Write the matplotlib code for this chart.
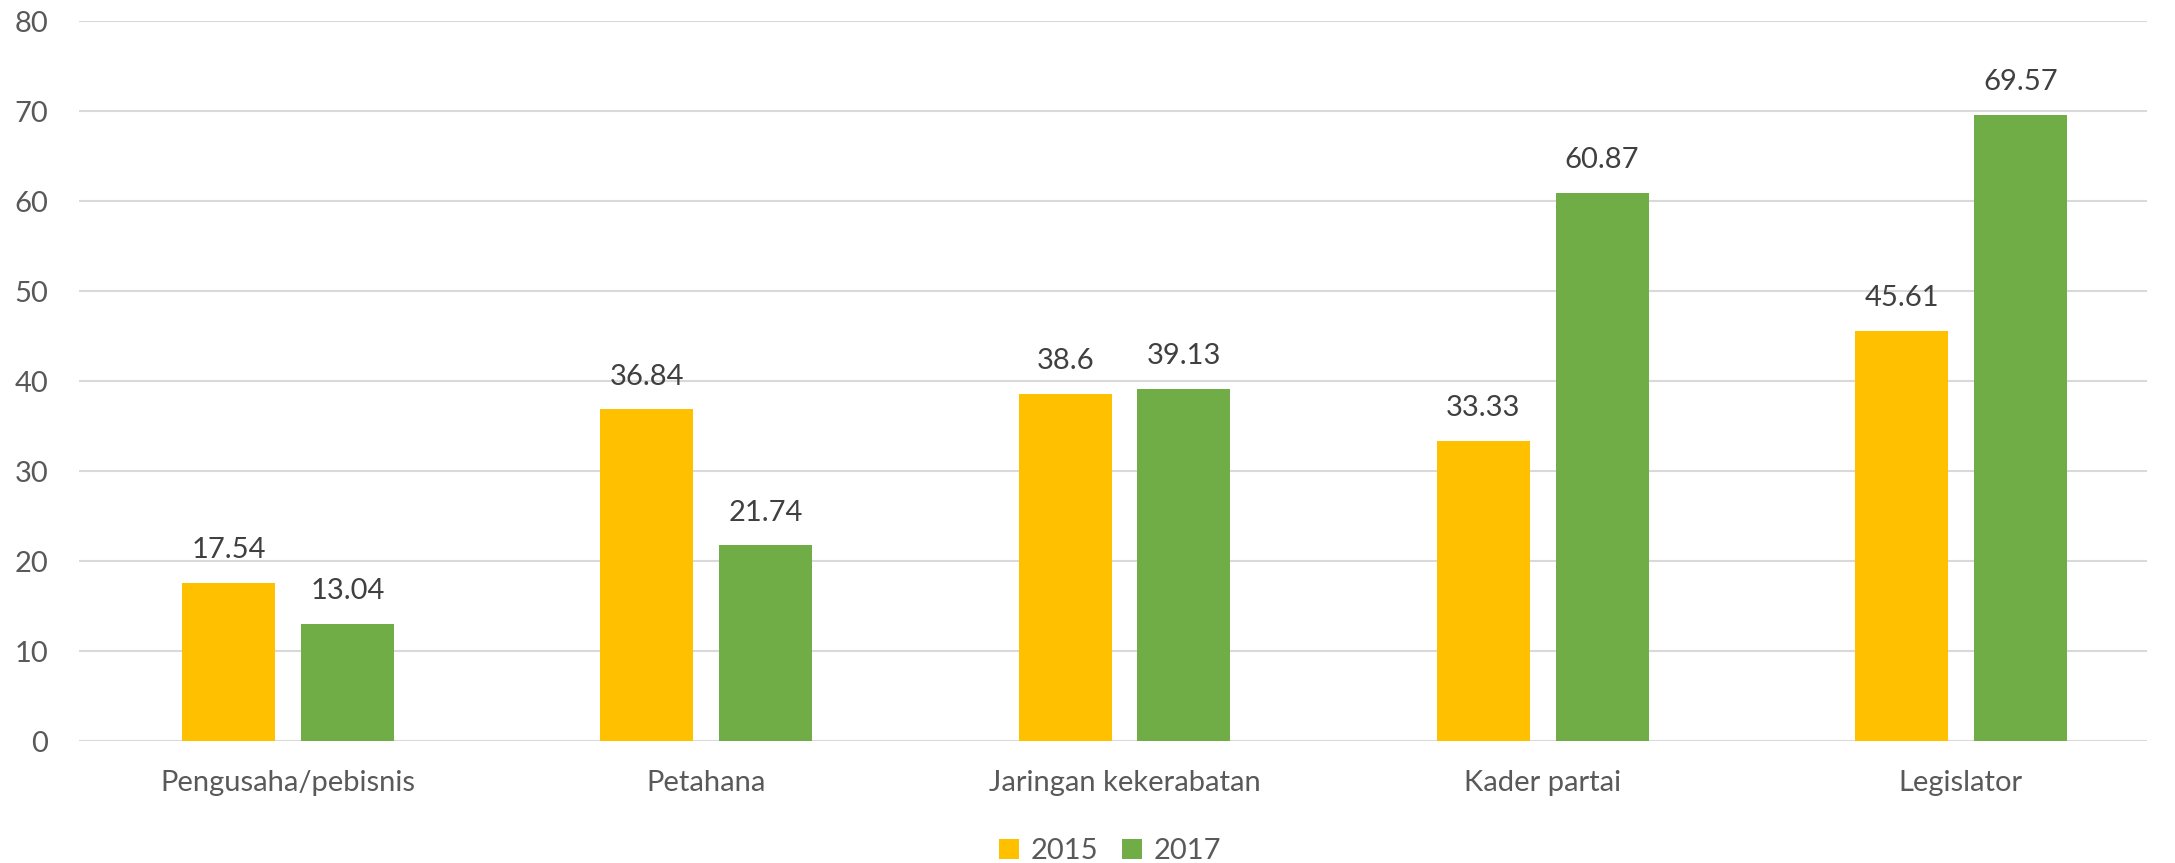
import matplotlib.pyplot as plt
import numpy as np

categories = ["Pengusaha/pebisnis", "Petahana", "Jaringan kekerabatan", "Kader partai", "Legislator"]
series_names = ["2015", "2017"]
values_2015 = [17.54, 36.84, 38.6, 33.33, 45.61]
values_2017 = [13.04, 21.74, 39.13, 60.87, 69.57]
yticks = [0, 10, 20, 30, 40, 50, 60, 70, 80]

colors = ["#FFC000", "#70AD47"]

plt.rcParams["font.family"] = ["Lato", "DejaVu Sans"]

fig = plt.figure(figsize=(21.75, 8.63), dpi=100)
ax = fig.add_axes([79 / 2175, 1 - 741 / 863, (2147 - 79) / 2175, (741 - 21) / 863])

x = np.arange(len(categories))
w = 0.222
off = 0.142
b1 = ax.bar(x - off, values_2015, w, color=colors[0], label=series_names[0], zorder=3)
b2 = ax.bar(x + off, values_2017, w, color=colors[1], label=series_names[1], zorder=3)

for bars, vals in [(b1, values_2015), (b2, values_2017)]:
    for r, v in zip(bars, vals):
        ax.text(r.get_x() + r.get_width() / 2, v + 2.2, f"{v:g}", ha="center", va="bottom",
                fontsize=21, color="#404040")

ax.set_xlim(-0.5, 4.445)
ax.set_ylim(0, 80)
ax.set_yticks(yticks)
ax.set_xticks(x)
ax.set_xticklabels(categories)
ax.tick_params(axis="both", length=0, labelsize=21, labelcolor="#595959")
ax.tick_params(axis="x", pad=21)
ax.tick_params(axis="y", pad=22)
ax.yaxis.grid(True, color="#D9D9D9", linewidth=1.5, zorder=0)
for s in ax.spines.values():
    s.set_visible(False)

fig.legend(loc="center", bbox_to_anchor=(1110 / 2175, 1 - 851 / 863), ncol=2, frameon=False,
           fontsize=21, handlelength=0.7, handleheight=0.7, columnspacing=0.8, handletextpad=0.4,
           labelcolor="#595959")

fig.savefig("out.png", dpi=100)
